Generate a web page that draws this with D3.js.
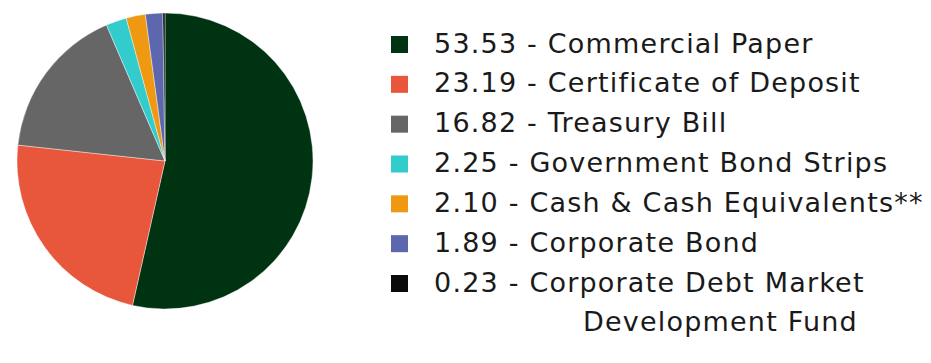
<!DOCTYPE html>
<html>
<head>
<meta charset="utf-8">
<script src="https://cdn.jsdelivr.net/npm/d3@7"></script>
<style>
  body { margin: 0; background: #fff; }
  text { font-family: "DejaVu Sans", sans-serif; }
</style>
</head>
<body>
<div id="chart"></div>
<script>
let width = 931;
let height = 363;

let labels = ["Commercial Paper", "Certificate of Deposit", "Treasury Bill", "Government Bond Strips",
    "Cash & Cash Equivalents**", "Corporate Bond", "Corporate Debt Market"];
let values = [53.53, 23.19, 16.82, 2.25, 2.10, 1.89, 0.23];
let colors = ["#003311", "#e8563b", "#666666", "#33cccc", "#ee9911", "#5c67ad", "#0a0a0a"];

let cx = 165, cy = 161, r = 148;

let svg = d3.select("#chart").append("svg")
    .attr("width", width).attr("height", height);

let pie = d3.pie().sort(null).value(d => d)(values);
let arc = d3.arc().innerRadius(0).outerRadius(r);

svg.append("g").attr("transform", `translate(${cx},${cy})`)
    .selectAll("path").data(pie)
    .join("path")
    .attr("d", arc)
    .attr("fill", (d, i) => colors[i])
    .attr("stroke", "#fff").attr("stroke-width", 0.4);

// legend
let rowY = d3.scaleLinear().domain([0, 6]).range([44.5, 283.5]);
let legend = svg.append("g");
let rows = legend.selectAll("g").data(values).join("g")
    .attr("transform", (d, i) => `translate(0,${rowY(i)})`);

rows.append("rect")
    .attr("x", 391).attr("y", -8.5)
    .attr("width", 17).attr("height", 17)
    .attr("fill", (d, i) => colors[i]);

rows.append("text")
    .attr("x", 434).attr("y", 8)
    .attr("font-size", 27)
    .attr("letter-spacing", 1.2)
    .attr("fill", "#1a1a1a")
    .text((d, i) => d.toFixed(2) + " - " + labels[i]);

legend.append("text")
    .attr("x", 583).attr("y", rowY(7) + 8)
    .attr("font-size", 27)
    .attr("letter-spacing", 1.2)
    .attr("fill", "#1a1a1a")
    .text("Development Fund");
</script>
</body>
</html>
